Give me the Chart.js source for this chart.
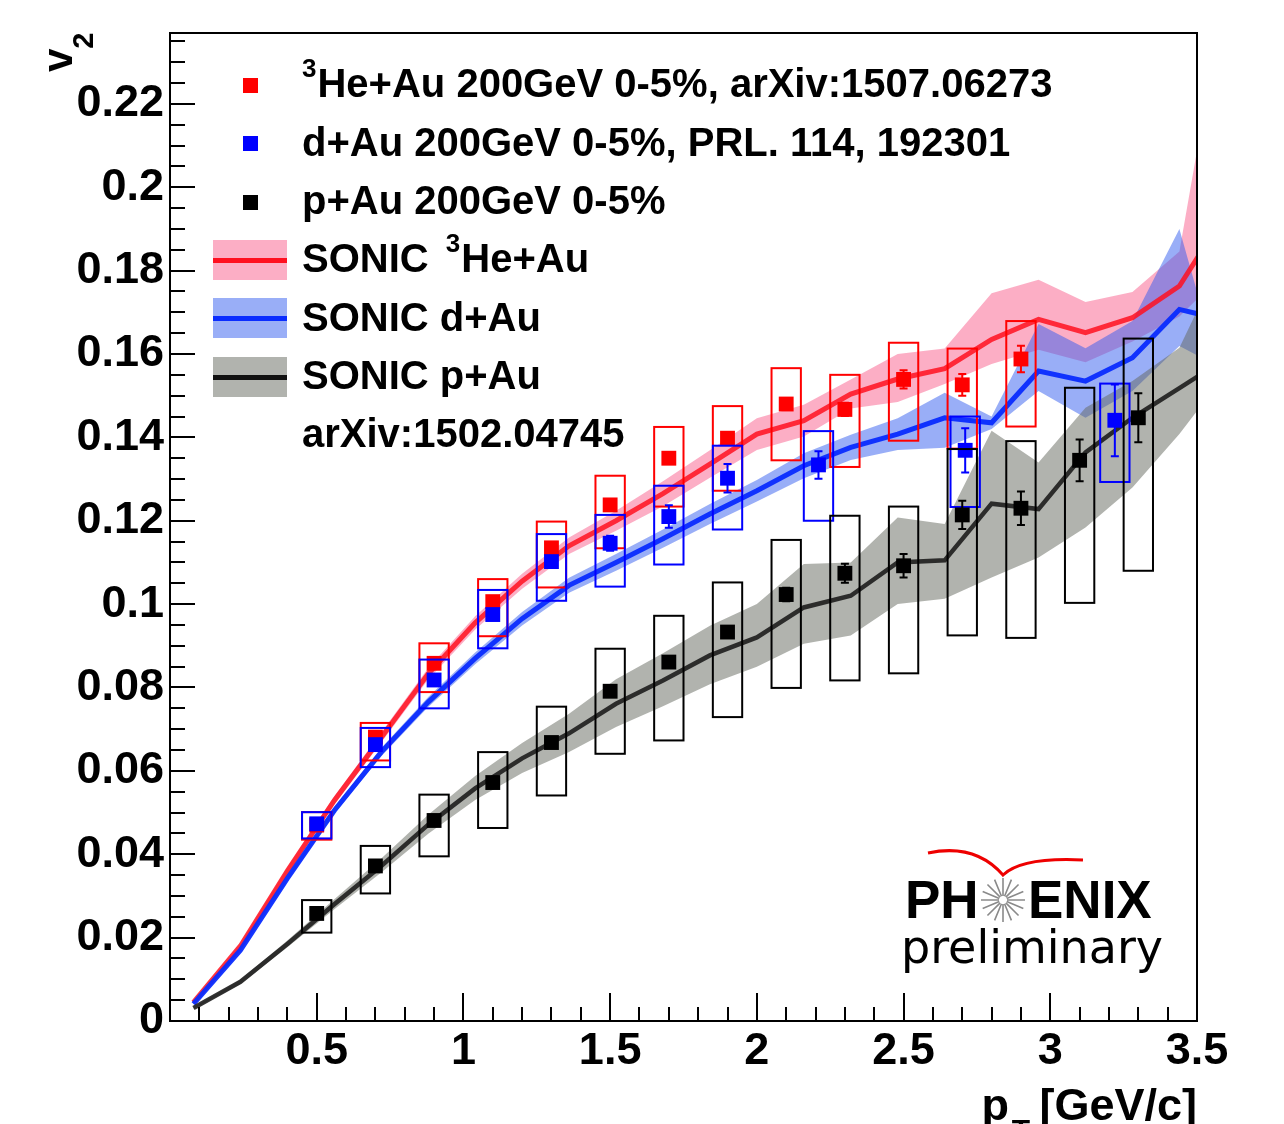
<!DOCTYPE html>
<html>
<head>
<meta charset="utf-8">
<script src="https://cdn.jsdelivr.net/npm/chart.js@4.4.0/dist/chart.umd.min.js"></script>
<style>
body { margin: 0; background: #fff; }
#wrap { width: 1284px; height: 1124px; }
</style>
</head>
<body>
<div id="wrap"><canvas id="v2chart" width="1284" height="1124"></canvas></div>
<script>
// PHENIX measured v2, 0-5% central, with stat errors and syst box edges
var heX     = [0.5, 0.7, 0.9, 1.1, 1.3, 1.5, 1.7, 1.9, 2.1, 2.3, 2.5, 2.7, 2.9];
var heV2    = [0.0470, 0.0681, 0.0858, 0.1006, 0.1135, 0.1238, 0.1350, 0.1398, 0.1480, 0.1467, 0.1539, 0.1526, 0.1588];
var heStat  = [0.0005, 0.0006, 0.0007, 0.0008, 0.0009, 0.0010, 0.0011, 0.0012, 0.0014, 0.0016, 0.0022, 0.0026, 0.0032];
var heSysLo = [0.0435, 0.0625, 0.0789, 0.0923, 0.1040, 0.1134, 0.1234, 0.1272, 0.1345, 0.1329, 0.1392, 0.1373, 0.1426];
var heSysHi = [0.0501, 0.0715, 0.0906, 0.1060, 0.1198, 0.1308, 0.1425, 0.1475, 0.1566, 0.1550, 0.1627, 0.1613, 0.1679];

var daX     = [0.5, 0.7, 0.9, 1.1, 1.3, 1.5, 1.7, 1.9, 2.21, 2.71, 3.22];
var daV2    = [0.0473, 0.0663, 0.0818, 0.0975, 0.1102, 0.1146, 0.1210, 0.1302, 0.1334, 0.1369, 0.1441];
var daStat  = [0.0008, 0.0009, 0.0010, 0.0011, 0.0013, 0.0018, 0.0027, 0.0034, 0.0033, 0.0053, 0.0086];
var daSysLo = [0.0438, 0.0609, 0.0750, 0.0894, 0.1008, 0.1042, 0.1095, 0.1179, 0.1200, 0.1233, 0.1293];
var daSysHi = [0.0501, 0.0703, 0.0867, 0.1034, 0.1168, 0.1214, 0.1284, 0.1380, 0.1415, 0.1450, 0.1529];

var paX     = [0.5, 0.7, 0.9, 1.1, 1.3, 1.5, 1.7, 1.9, 2.1, 2.3, 2.5, 2.7, 2.9, 3.1, 3.3];
var paV2    = [0.0258, 0.0372, 0.0481, 0.0572, 0.0668, 0.0791, 0.0861, 0.0933, 0.1023, 0.1074, 0.1092, 0.1214, 0.1230, 0.1345, 0.1447];
var paStat  = [0.0005, 0.0006, 0.0007, 0.0008, 0.0009, 0.0010, 0.0012, 0.0014, 0.0016, 0.0023, 0.0028, 0.0034, 0.0040, 0.0050, 0.0059];
var paSysLo = [0.0212, 0.0306, 0.0395, 0.0463, 0.0541, 0.0641, 0.0673, 0.0729, 0.0799, 0.0817, 0.0834, 0.0925, 0.0919, 0.1003, 0.1080];
var paSysHi = [0.0290, 0.0420, 0.0543, 0.0645, 0.0754, 0.0893, 0.0972, 0.1052, 0.1154, 0.1212, 0.1234, 0.1372, 0.1391, 0.1519, 0.1637];

// SONIC curves (line + band edges)
var sonicPt = [0.08, 0.24, 0.40, 0.56, 0.72, 0.88, 1.04, 1.20, 1.36, 1.52, 1.68, 1.84, 2.00, 2.16, 2.32, 2.48, 2.64, 2.80, 2.96, 3.12, 3.28, 3.44, 3.60];

var sonicHe   = [0.0045, 0.0180, 0.0360, 0.0529, 0.0680, 0.0833, 0.0955, 0.1055, 0.1140, 0.1200, 0.1265, 0.1336, 0.1408, 0.1440, 0.1504, 0.1540, 0.1565, 0.1635, 0.1683, 0.1651, 0.1687, 0.1763, 0.1940];
var sonicHeLo = [0.0042, 0.0175, 0.0352, 0.0519, 0.0668, 0.0819, 0.0939, 0.1037, 0.1120, 0.1176, 0.1235, 0.1303, 0.1370, 0.1402, 0.1469, 0.1485, 0.1528, 0.1576, 0.1610, 0.1580, 0.1630, 0.1690, 0.1800];
var sonicHeHi = [0.0048, 0.0185, 0.0368, 0.0539, 0.0692, 0.0847, 0.0971, 0.1073, 0.1160, 0.1224, 0.1295, 0.1369, 0.1446, 0.1478, 0.1539, 0.1600, 0.1613, 0.1746, 0.1778, 0.1725, 0.1749, 0.1846, 0.2490];

var sonicDa   = [0.0041, 0.0170, 0.0342, 0.0505, 0.0645, 0.0765, 0.0870, 0.0965, 0.1045, 0.1100, 0.1157, 0.1216, 0.1272, 0.1332, 0.1376, 0.1408, 0.1447, 0.1435, 0.1559, 0.1535, 0.1591, 0.1707, 0.1680];
var sonicDaLo = [0.0039, 0.0166, 0.0336, 0.0497, 0.0635, 0.0753, 0.0856, 0.0949, 0.1027, 0.1080, 0.1135, 0.1192, 0.1246, 0.1302, 0.1346, 0.1370, 0.1375, 0.1420, 0.1511, 0.1447, 0.1511, 0.1619, 0.1560];
var sonicDaHi = [0.0043, 0.0174, 0.0348, 0.0513, 0.0655, 0.0777, 0.0884, 0.0981, 0.1063, 0.1120, 0.1179, 0.1240, 0.1298, 0.1362, 0.1406, 0.1446, 0.1507, 0.1450, 0.1672, 0.1614, 0.1679, 0.1900, 0.1500];

var sonicPa   = [0.0031, 0.0094, 0.0185, 0.0280, 0.0372, 0.0471, 0.0558, 0.0630, 0.0690, 0.0761, 0.0817, 0.0877, 0.0920, 0.0992, 0.1020, 0.1100, 0.1105, 0.1241, 0.1228, 0.1364, 0.1447, 0.1518, 0.1590];
var sonicPaLo = [0.0029, 0.0089, 0.0177, 0.0268, 0.0356, 0.0449, 0.0530, 0.0595, 0.0645, 0.0705, 0.0755, 0.0808, 0.0850, 0.0905, 0.0925, 0.1000, 0.1013, 0.1064, 0.1112, 0.1184, 0.1280, 0.1408, 0.1555];
var sonicPaHi = [0.0033, 0.0099, 0.0193, 0.0292, 0.0390, 0.0495, 0.0588, 0.0667, 0.0737, 0.0820, 0.0882, 0.0948, 0.1000, 0.1096, 0.1100, 0.1208, 0.1192, 0.1416, 0.1340, 0.1471, 0.1535, 0.1615, 0.1850];

var xTickStep = 0.5;
var yTickStep = 0.02;

function pts(xs, ys) {
	return xs.map(function(x, i){ return {x: x, y: ys[i]}; });
}

var fontMain = 'Liberation Sans, Arial, Helvetica, sans-serif';

function markerSet(label, xs, ys, stat, lo, hi, color) {
	return {
		label: label,
		data: pts(xs, ys),
		showLine: false,
		pointStyle: 'rect',
		pointRadius: 10.5,
		pointBorderWidth: 0,
		pointBackgroundColor: color,
		borderColor: color,
		backgroundColor: color,
		stat: stat, sysLo: lo, sysHi: hi, boxColor: color
	};
}

function bandEdge(ys, fillColor, fillTo) {
	return {
		data: pts(sonicPt, ys),
		pointRadius: 0,
		borderWidth: 0,
		borderColor: 'rgba(0,0,0,0)',
		backgroundColor: fillColor,
		fill: fillTo
	};
}

function curve(ys, color, w) {
	return {
		data: pts(sonicPt, ys),
		pointRadius: 0,
		borderWidth: w,
		borderColor: color,
		fill: false
	};
}

// syst boxes + stat bars, drawn just under each marker set
var systBoxes = {
	id: 'systBoxes',
	beforeDatasetDraw: function(chart, args){
		var ds = chart.data.datasets[args.index];
		if (!ds.sysLo) { return; }
		var xs = chart.scales.x, ys = chart.scales.y, ctx = chart.ctx, a = chart.chartArea;
		ctx.save();
		ctx.beginPath();
		ctx.rect(a.left, a.top, a.right - a.left, a.bottom - a.top);
		ctx.clip();
		ctx.strokeStyle = ds.boxColor;
		ctx.lineWidth = 2;
		ds.data.forEach(function(p, i){
			var x0 = xs.getPixelForValue(p.x - 0.05), x1 = xs.getPixelForValue(p.x + 0.05);
			var y0 = ys.getPixelForValue(ds.sysHi[i]), y1 = ys.getPixelForValue(ds.sysLo[i]);
			ctx.strokeRect(x0, y0, x1 - x0, y1 - y0);
			var xc = xs.getPixelForValue(p.x);
			var ya = ys.getPixelForValue(p.y + ds.stat[i]), yb = ys.getPixelForValue(p.y - ds.stat[i]);
			ctx.beginPath();
			ctx.moveTo(xc, ya); ctx.lineTo(xc, yb);
			ctx.moveTo(xc - 4, ya); ctx.lineTo(xc + 4, ya);
			ctx.moveTo(xc - 4, yb); ctx.lineTo(xc + 4, yb);
			ctx.stroke();
		});
		ctx.restore();
	}
};

// ROOT-style frame with ticks pointing inwards
var frameTicks = {
	id: 'frameTicks',
	afterDatasetsDraw: function(chart){
		var a = chart.chartArea, xs = chart.scales.x, ys = chart.scales.y, ctx = chart.ctx;
		ctx.save();
		ctx.strokeStyle = '#000';
		ctx.lineWidth = 2;
		ctx.strokeRect(a.left, a.top, a.right - a.left, a.bottom - a.top);
		ctx.beginPath();
		for (var i = 1; i * 0.005 <= ys.max; i++) {
			var py = Math.round(ys.getPixelForValue(i * 0.005));
			var len = (i % 4 === 0) ? 25 : 15;
			ctx.moveTo(a.left, py); ctx.lineTo(a.left + len, py);
		}
		for (var j = 1; j < 35; j++) {
			var px = Math.round(xs.getPixelForValue(j * 0.1));
			var l = (j % 5 === 0) ? 28 : 14;
			ctx.moveTo(px, a.bottom); ctx.lineTo(px, a.bottom - l);
		}
		ctx.stroke();
		ctx.restore();
	}
};

function runs(ctx, x, y, list) {
	list.forEach(function(r){
		ctx.font = r.f;
		ctx.fillText(r.t, x, y + (r.dy || 0));
		x += ctx.measureText(r.t).width + (r.gap || 0);
	});
	return x;
}

var decorations = {
	id: 'decorations',
	afterDraw: function(chart){
		var ctx = chart.ctx;
		var big = 'bold 40px ' + fontMain, sup = 'bold 26px ' + fontMain;
		ctx.save();
		ctx.fillStyle = '#000';
		ctx.textBaseline = 'alphabetic';
		ctx.textAlign = 'left';

		// legend markers
		[['#ff0000', 85], ['#0000ff', 143], ['#000000', 202]].forEach(function(m){
			ctx.fillStyle = m[0];
			ctx.fillRect(243, m[1] - 7, 15, 15);
		});
		// legend bands
		[['#fcaec5', '#ff1020', 260], ['#99aef7', '#0a2cff', 318], ['#b1b3ae', '#111111', 377]].forEach(function(b){
			ctx.fillStyle = b[0];
			ctx.fillRect(213, b[2] - 20, 74, 40);
			ctx.fillStyle = b[1];
			ctx.fillRect(213, b[2] - 2, 74, 5);
		});

		ctx.fillStyle = '#000';
		var tx = 302;
		runs(ctx, tx, 97, [{t: '3', f: sup, dy: -20, gap: 1}, {t: 'He+Au 200GeV 0-5%, arXiv:1507.06273', f: big}]);
		runs(ctx, tx, 156, [{t: 'd+Au 200GeV 0-5%, PRL. 114, 192301', f: big}]);
		runs(ctx, tx, 214, [{t: 'p+Au 200GeV 0-5%', f: big}]);
		runs(ctx, tx, 272, [{t: 'SONIC ', f: big, gap: 6}, {t: '3', f: sup, dy: -20, gap: 1}, {t: 'He+Au', f: big}]);
		runs(ctx, tx, 331, [{t: 'SONIC d+Au', f: big}]);
		runs(ctx, tx, 389, [{t: 'SONIC p+Au', f: big}]);
		runs(ctx, tx, 447, [{t: 'arXiv:1502.04745', f: big}]);

		// y title v_2 (rotated)
		ctx.save();
		ctx.translate(72, 72);
		ctx.rotate(-Math.PI / 2);
		runs(ctx, 0, 0, [{t: 'v', f: 'bold 42px ' + fontMain, gap: 0}, {t: '2', f: 'bold 29px ' + fontMain, dy: 21}]);
		ctx.restore();

		// x title p_T [GeV/c]
		ctx.textAlign = 'right';
		ctx.font = 'bold 45px ' + fontMain;
		ctx.fillText('[GeV/c]', 1197, 1120);
		ctx.font = 'bold 30px ' + fontMain;
		ctx.fillText('T', 1030, 1140);
		ctx.font = 'bold 45px ' + fontMain;
		ctx.fillText('p', 1009, 1120);
		ctx.textAlign = 'left';

		// PHENIX preliminary logo
		ctx.font = 'bold 53px ' + fontMain;
		ctx.fillText('PH', 905, 918);
		ctx.fillText('ENIX', 1028, 918);
		ctx.strokeStyle = '#8a8a8a';
		ctx.lineWidth = 1.6;
		ctx.beginPath();
		for (var k = 0; k < 16; k++) {
			var ang = k * Math.PI / 8;
			ctx.moveTo(1003 + 4 * Math.cos(ang), 900 + 4 * Math.sin(ang));
			ctx.lineTo(1003 + 22 * Math.cos(ang), 900 + 22 * Math.sin(ang));
		}
		ctx.stroke();
		ctx.strokeStyle = '#ee0000';
		ctx.lineWidth = 3;
		ctx.beginPath();
		ctx.moveTo(928, 853);
		ctx.quadraticCurveTo(975, 843, 1003, 875);
		ctx.quadraticCurveTo(1022, 857, 1083, 860);
		ctx.stroke();
		ctx.font = '46px DejaVu Sans, sans-serif';
		ctx.fillStyle = '#000';
		ctx.fillText('preliminary', 901, 963);
		ctx.restore();
	}
};

var tickFont = {family: fontMain, weight: 'bold', size: 45};

new Chart(document.getElementById('v2chart'), {
	type: 'line',
	data: {
		datasets: [
			markerSet('p+Au 200GeV 0-5%', paX, paV2, paStat, paSysLo, paSysHi, '#000000'),
			markerSet('d+Au 200GeV 0-5%', daX, daV2, daStat, daSysLo, daSysHi, '#0000ff'),
			markerSet('3He+Au 200GeV 0-5%', heX, heV2, heStat, heSysLo, heSysHi, '#ff0000'),
			curve(sonicPa, 'rgba(30,30,30,0.9)', 4.5),
			curve(sonicDa, 'rgba(10,44,255,0.95)', 5),
			curve(sonicHe, 'rgba(255,16,32,0.85)', 5),
			bandEdge(sonicPaLo, 'rgba(0,0,0,0)', false),
			bandEdge(sonicPaHi, 'rgba(100,104,94,0.5)', '-1'),
			bandEdge(sonicDaLo, 'rgba(0,0,0,0)', false),
			bandEdge(sonicDaHi, 'rgba(51,93,239,0.5)', '-1'),
			bandEdge(sonicHeLo, 'rgba(0,0,0,0)', false),
			bandEdge(sonicHeHi, 'rgba(250,93,139,0.5)', '-1')
		]
	},
	options: {
		responsive: false,
		animation: false,
		events: [],
		devicePixelRatio: 1,
		layout: { padding: { top: 31, right: 87, bottom: 0, left: 0 } },
		plugins: { legend: { display: false }, tooltip: { enabled: false } },
		scales: {
			x: {
				type: 'linear',
				min: 0,
				max: 3.5,
				grid: { display: false, drawTicks: false },
				border: { display: true, color: '#000', width: 2 },
				ticks: {
					stepSize: xTickStep,
					includeBounds: false,
					autoSkip: false,
					maxRotation: 0,
					padding: 4,
					color: '#000',
					font: tickFont,
					callback: function(v){ return v === 0 ? '' : String(v); }
				},
				afterFit: function(s){ s.height = 103; }
			},
			y: {
				type: 'linear',
				min: 0,
				max: 0.237,
				grid: { display: false, drawTicks: false },
				border: { display: true, color: '#000', width: 2 },
				ticks: {
					stepSize: yTickStep,
					includeBounds: false,
					padding: 6,
					color: '#000',
					font: tickFont,
					callback: function(v){ return String(Math.round(v * 1000) / 1000); }
				},
				afterFit: function(s){ s.width = 170; }
			}
		}
	},
	plugins: [systBoxes, frameTicks, decorations]
});
</script>
</body>
</html>
